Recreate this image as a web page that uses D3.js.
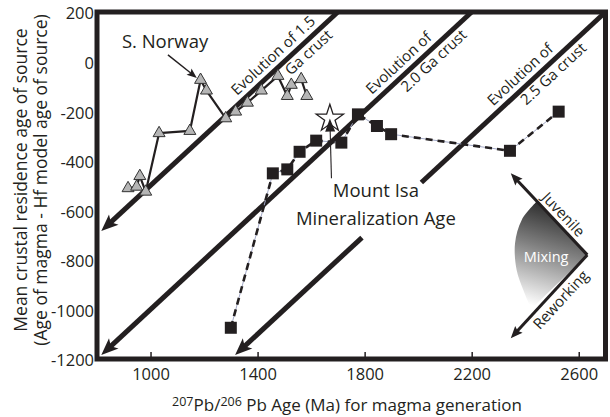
<!DOCTYPE html>
<meta charset="utf-8">
<style>

body {
  margin: 0;
  background: #fff;
}

svg {
  font-family: "Open Sans", sans-serif;
  fill: #231f20;
}

</style>
<svg width="610" height="417"></svg>
<script src="https://d3js.org/d3.v7.min.js"></script>
<script>

// S. Norway, grey triangles
var norwayAge = [916, 948, 960, 982, 1032, 1147, 1187, 1209, 1281, 1318, 1362, 1414, 1476, 1511, 1526, 1563, 1584],
    norwayResidence = [-511, -505, -462, -525, -289, -280, -74, -117, -229, -202, -166, -117, -58, -139, -94, -71, -139];

// Mount Isa, black squares
var isaAge = [1300, 1457, 1511, 1557, 1619, 1713, 1775, 1846, 1899, 2343, 2525],
    isaResidence = [-1074, -451, -435, -364, -319, -327, -213, -260, -293, -360, -202];

var mineralizationAge = 1670,
    mineralizationResidence = -230;

// crust evolution lines: residence = age - model age
var crustAges = [1500, 2000, 2500],
    crustLabels = [["Evolution of 1.5", "Ga crust"], ["Evolution of", "2.0 Ga crust"], ["Evolution of", "2.5 Ga crust"]];

var xTicks = [1000, 1400, 1800, 2200, 2600],
    yTicks = [200, 0, -200, -400, -600, -800, -1000, -1200];

var svg = d3.select("svg"),
    ink = "#231f20";

var x = d3.scaleLinear().domain([800, 2700]).range([97, 605.5]),
    y = d3.scaleLinear().domain([-1200, 200]).range([359, 12]);

var defs = svg.append("defs");
var grad = defs.append("linearGradient")
    .attr("id", "mixShade")
    .attr("x1", 0.6).attr("y1", 0).attr("x2", 0.4).attr("y2", 1);
grad.append("stop").attr("offset", 0).attr("stop-color", "#222");
grad.append("stop").attr("offset", 0.45).attr("stop-color", "#808080");
grad.append("stop").attr("offset", 1).attr("stop-color", "#fff");

// draws a filled arrow head at (x2,y2) pointing away from (x1,y1), returns where the shaft should end
function arrowHead(g, x1, y1, x2, y2, len, half, notch) {
  var a = Math.atan2(y2 - y1, x2 - x1), c = Math.cos(a), s = Math.sin(a);
  function p(u, v) { return [x2 + u * c - v * s, y2 + u * s + v * c]; }
  g.append("path")
      .attr("d", "M" + [p(0, 0), p(-len, -half), p(-len + notch, 0), p(-len, half)].join("L") + "Z")
      .attr("fill", ink);
  return p(-len + notch + 1, 0);
}

function arrow(g, x1, y1, x2, y2, width, len, half, notch) {
  var b = arrowHead(g, x1, y1, x2, y2, len, half, notch);
  g.append("line")
      .attr("x1", x1).attr("y1", y1).attr("x2", b[0]).attr("y2", b[1])
      .attr("stroke", ink).attr("stroke-width", width);
}

// mixing inset (data coordinates)
var mixJunction = [2632, -780],
    mixJuvenile = [2346, -451],
    mixReworking = [2346, -1116],
    mixEdge = [[2443, -565], [2387, -639], [2362, -733], [2368, -841], [2393, -922], [2422, -998]];

var inset = svg.append("g");
var edge = d3.line()
    .x(function(d) { return x(d[0]); })
    .y(function(d) { return y(d[1]); })
    .curve(d3.curveCatmullRom);
inset.append("path")
    .attr("d", edge(mixEdge) + "L" + x(mixJunction[0]) + "," + y(mixJunction[1]) + "Z")
    .attr("fill", "url(#mixShade)");

arrow(inset, x(mixJunction[0]), y(mixJunction[1]), x(mixJuvenile[0]), y(mixJuvenile[1]), 3, 12, 5, 2);
arrow(inset, x(mixJunction[0]), y(mixJunction[1]), x(mixReworking[0]), y(mixReworking[1]), 3, 12, 5, 2);

function alongLabel(from, to, t, dy, txt) {
  var x1 = x(from[0]), y1 = y(from[1]), x2 = x(to[0]), y2 = y(to[1]);
  var ang = Math.atan2(y2 - y1, x2 - x1) * 180 / Math.PI;
  inset.append("text")
      .attr("transform", "translate(" + (x1 + t * (x2 - x1)) + "," + (y1 + t * (y2 - y1)) + ") rotate(" + ang + ")")
      .attr("dy", dy)
      .attr("text-anchor", "middle")
      .style("font-size", "15px")
      .text(txt);
}
alongLabel(mixJuvenile, mixJunction, 0.59, -5, "Juvenile");
alongLabel(mixReworking, mixJunction, 0.55, 16, "Reworking");

inset.append("text")
    .attr("x", x(2478)).attr("y", y(-789))
    .attr("dy", "0.35em")
    .attr("text-anchor", "middle")
    .attr("fill", "#fff")
    .style("font-size", "14.5px")
    .text("Mixing");

// evolution lines
var isaLabelGap = [1790, 2012],
    crustLabelAt = [[1489, 1566], [1958, 2033], [2412, 2480]];

var evo = svg.append("g");
var ang = Math.atan2(y(1) - y(0), x(1) - x(0)) * 180 / Math.PI;

crustAges.forEach(function(t, i) {
  var topX = Math.min(2700, 200 + t),
      tipX = Math.max(800, t - 1200) + 16;
  var stops = t === 2500 ? [isaLabelGap[1], isaLabelGap[0]] : [];
  var pts = [topX].concat(stops).concat([tipX]);
  for (var k = 0; k < pts.length; k += 2) {
    var a = pts[k], b = pts[k + 1];
    if (k + 2 === pts.length) {
      arrow(evo, x(a), y(a - t), x(b), y(b - t), 5, 17, 7, 4);
    } else {
      evo.append("line")
          .attr("x1", x(a)).attr("y1", y(a - t)).attr("x2", x(b)).attr("y2", y(b - t))
          .attr("stroke", ink).attr("stroke-width", 5);
    }
  }

  [-7, 15].forEach(function(dy, j) {
    var xc = crustLabelAt[i][j];
    evo.append("text")
        .attr("transform", "translate(" + x(xc) + "," + y(xc - t) + ") rotate(" + ang + ")")
        .attr("dy", dy)
        .attr("text-anchor", "middle")
        .style("font-size", "15px")
        .text(crustLabels[i][j]);
  });
});

// connecting lines
var norway = norwayAge.map(function(d, i) { return [d, norwayResidence[i]]; }),
    isa = isaAge.map(function(d, i) { return [d, isaResidence[i]]; });

var path = d3.line()
    .x(function(d) { return x(d[0]); })
    .y(function(d) { return y(d[1]); });

svg.append("path")
    .attr("d", path(norway))
    .attr("fill", "none")
    .attr("stroke", ink)
    .attr("stroke-width", 2.2)
    .attr("stroke-linejoin", "round");

svg.append("path")
    .attr("d", path(isa))
    .attr("fill", "none")
    .attr("stroke", "#a3a9c6")
    .attr("stroke-width", 1);

svg.append("path")
    .attr("d", path(isa))
    .attr("fill", "none")
    .attr("stroke", ink)
    .attr("stroke-width", 2.6)
    .attr("stroke-dasharray", "7,5");

// markers
svg.append("g").selectAll("path")
  .data(norway)
  .enter().append("path")
    .attr("transform", function(d) { return "translate(" + x(d[0]) + "," + y(d[1]) + ")"; })
    .attr("d", d3.symbol().type(d3.symbolTriangle).size(62))
    .attr("fill", "#b5b5b5")
    .attr("stroke", "#333")
    .attr("stroke-width", 1);

svg.append("g").selectAll("path")
  .data(isa)
  .enter().append("path")
    .attr("transform", function(d) { return "translate(" + x(d[0]) + "," + y(d[1]) + ")"; })
    .attr("d", d3.symbol().type(d3.symbolSquare).size(144))
    .attr("fill", ink);

svg.append("path")
    .attr("transform", "translate(" + x(mineralizationAge) + "," + y(mineralizationResidence) + ")")
    .attr("d", d3.symbol().type(d3.symbolStar).size(230))
    .attr("fill", "#fff")
    .attr("stroke", ink)
    .attr("stroke-width", 1.3);

// annotations
var note = svg.append("g");

arrow(note, x(1676), y(-471), x(mineralizationAge), y(mineralizationResidence), 1.1, 13, 5, 0);

note.append("text")
    .attr("x", x(1842)).attr("y", y(-545))
    .attr("text-anchor", "middle")
    .style("font-size", "18.5px")
    .text("Mount Isa");

note.append("text")
    .attr("x", x(1842)).attr("y", y(-659))
    .attr("text-anchor", "middle")
    .style("font-size", "18.5px")
    .text("Mineralization Age");

arrow(note, x(1065), y(27), x(1173), y(-66), 1.4, 10, 4, 2);

note.append("text")
    .attr("x", x(893)).attr("y", y(55))
    .style("font-size", "18.5px")
    .text("S. Norway");

// frame and axes
svg.append("rect")
    .attr("x", x(800)).attr("y", y(200))
    .attr("width", x(2700) - x(800)).attr("height", y(-1200) - y(200))
    .attr("fill", "none")
    .attr("stroke", ink)
    .attr("stroke-width", 5);

var plain = function(d) { return String(d); };

var xAxis = svg.append("g")
    .attr("transform", "translate(0," + y(-1200) + ")")
    .call(d3.axisBottom(x).tickValues(xTicks).tickFormat(plain).tickSizeInner(-7).tickSizeOuter(0).tickPadding(9));

var yAxis = svg.append("g")
    .attr("transform", "translate(" + x(800) + ",0)")
    .call(d3.axisLeft(y).tickValues(yTicks).tickFormat(plain).tickSize(0).tickPadding(3));

[xAxis, yAxis].forEach(function(g) {
  g.attr("font-family", null).attr("font-size", null);
  g.select(".domain").remove();
  g.selectAll(".tick line").attr("stroke", ink).attr("stroke-width", 1.5);
  g.selectAll("text").attr("fill", ink).style("font-size", "16.5px");
});
yAxis.selectAll("text").attr("dy", "0.42em");

svg.append("text")
    .attr("transform", "translate(26.5,180) rotate(-90)")
    .attr("text-anchor", "middle")
    .style("font-size", "17.5px")
    .text("Mean crustal residence age of source");

svg.append("text")
    .attr("transform", "translate(46.5,180) rotate(-90)")
    .attr("text-anchor", "middle")
    .style("font-size", "17.5px")
    .text("(Age of magma - Hf model age of source)");

var xTitle = svg.append("text")
    .attr("x", 347).attr("y", 411)
    .attr("text-anchor", "middle")
    .style("font-size", "17px");
xTitle.append("tspan").attr("dy", -5).style("font-size", "12.5px").text("207");
xTitle.append("tspan").attr("dy", 5).text("Pb/");
xTitle.append("tspan").attr("dy", -5).style("font-size", "12.5px").text("206");
xTitle.append("tspan").attr("dy", 5).text(" Pb Age (Ma) for magma generation");

</script>
